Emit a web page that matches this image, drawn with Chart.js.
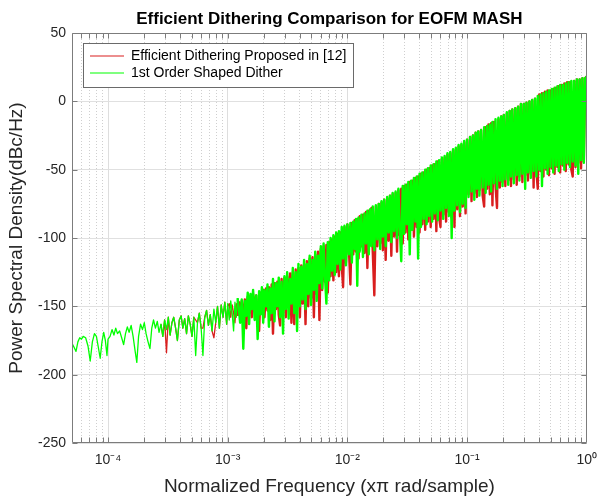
<!DOCTYPE html>
<html><head><meta charset="utf-8">
<script src="https://cdn.jsdelivr.net/npm/chart.js@4.4.1/dist/chart.umd.min.js"></script>
<style>html,body{margin:0;padding:0;background:#fff}#wrap{width:606px;height:500px;position:relative}</style>
</head><body><div id="wrap"><canvas id="c"></canvas></div>
<script>
// ---- data ----
const titleText = 'Efficient Dithering Comparison for EOFM MASH';
const seriesNames = ['Efficient Dithering Proposed in [12]', '1st Order Shaped Dither'];
const xTitle = 'Normalized Frequency (x\u03C0 rad/sample)';
const yTitle = 'Power Spectral Density(dBc/Hz)';
const xTickDecades = [1e-4, 1e-3, 1e-2, 1e-1, 1];
const xTickLabels = ['10\u207B\u2074', '10\u207B\u00B3', '10\u207B\u00B2', '10\u207B\u00B9', '10\u2070'];

const freqs = [
5.0e-5,5.2e-5,5.4e-5,5.6e-5,5.8e-5,6.0e-5,6.2e-5,6.5e-5,6.8e-5,7.1e-5,7.4e-5,7.7e-5,8.0e-5,8.3e-5,8.6e-5,8.9e-5,9.2e-5,9.5e-5,9.8e-5,
1.00e-4,1.04e-4,1.08e-4,1.12e-4,1.16e-4,1.20e-4,1.25e-4,1.30e-4,1.35e-4,1.40e-4,1.45e-4,1.50e-4,1.56e-4,1.62e-4,1.68e-4,1.74e-4,1.80e-4,1.87e-4,1.94e-4,2.01e-4,
2.08e-4,2.16e-4,2.24e-4,2.32e-4,2.40e-4,2.49e-4,2.58e-4,2.67e-4,2.77e-4,2.87e-4,2.97e-4,3.08e-4,3.19e-4,3.30e-4,3.42e-4,3.54e-4,3.67e-4,3.80e-4,3.94e-4,4.08e-4,
4.22e-4,4.37e-4,4.53e-4,4.69e-4,4.86e-4,5.03e-4,5.21e-4,5.40e-4,5.59e-4,5.79e-4,6.00e-4,6.21e-4,6.43e-4,6.66e-4,6.90e-4,7.15e-4,7.40e-4,7.67e-4,7.94e-4,8.22e-4,
8.52e-4,8.82e-4,9.14e-4,9.46e-4,9.80e-4,
1.00e-3,1.03e-3,1.06e-3,1.09e-3,1.12e-3,1.15e-3,1.18e-3,1.21e-3,1.24e-3,1.27e-3,1.31e-3,1.35e-3,1.39e-3,1.43e-3,1.47e-3,1.51e-3,1.55e-3,1.59e-3,1.63e-3,1.68e-3,
1.73e-3,1.78e-3,1.83e-3,1.88e-3,1.93e-3,1.98e-3,2.03e-3,2.09e-3,2.15e-3,2.21e-3,2.27e-3,2.33e-3,2.39e-3,2.46e-3,2.53e-3,2.60e-3,2.67e-3,2.74e-3,2.82e-3,2.90e-3,
2.98e-3,3.06e-3,3.14e-3,3.23e-3,3.32e-3,3.41e-3,3.50e-3,3.60e-3,3.70e-3,3.80e-3,3.90e-3,4.01e-3,4.12e-3,4.23e-3,4.35e-3,4.47e-3,4.59e-3,4.71e-3,4.84e-3,4.97e-3,
5.11e-3,5.25e-3,5.39e-3,5.54e-3,5.69e-3,5.84e-3,6.00e-3,6.16e-3,6.33e-3,6.50e-3,6.68e-3,6.86e-3,7.05e-3,7.24e-3,7.44e-3,7.64e-3,7.85e-3,8.06e-3,8.28e-3,8.50e-3,
8.73e-3,8.97e-3,9.21e-3,9.46e-3,9.72e-3,
1.00e-2,1.03e-2,1.06e-2,1.09e-2,1.12e-2,1.15e-2,1.18e-2,1.21e-2,1.24e-2,1.27e-2,1.31e-2,1.35e-2,1.39e-2,1.43e-2,1.47e-2,1.51e-2,1.55e-2,1.59e-2,1.63e-2,1.68e-2,
1.73e-2,1.78e-2,1.83e-2,1.88e-2,1.93e-2,1.98e-2,2.03e-2,2.09e-2,2.15e-2,2.21e-2,2.27e-2,2.33e-2,2.39e-2,2.46e-2,2.53e-2,2.60e-2,2.67e-2,2.74e-2,2.82e-2,2.90e-2,
2.98e-2,3.06e-2,3.14e-2,3.23e-2,3.32e-2,3.41e-2,3.50e-2,3.60e-2,3.70e-2,3.80e-2,3.90e-2,4.01e-2,4.12e-2,4.23e-2,4.35e-2,4.47e-2,4.59e-2,4.71e-2,4.84e-2,4.97e-2,
5.11e-2,5.25e-2,5.39e-2,5.54e-2,5.69e-2,5.84e-2,6.00e-2,6.16e-2,6.33e-2,6.50e-2,6.68e-2,6.86e-2,7.05e-2,7.24e-2,7.44e-2,7.64e-2,7.85e-2,8.06e-2,8.28e-2,8.50e-2,
8.73e-2,8.97e-2,9.21e-2,9.46e-2,9.72e-2,
1.00e-1,1.03e-1,1.06e-1,1.09e-1,1.12e-1,1.15e-1,1.18e-1,1.21e-1,1.24e-1,1.27e-1,1.31e-1,1.35e-1,1.39e-1,1.43e-1,1.47e-1,1.51e-1,1.55e-1,1.59e-1,1.63e-1,1.68e-1,
1.73e-1,1.78e-1,1.83e-1,1.88e-1,1.93e-1,1.98e-1,2.03e-1,2.09e-1,2.15e-1,2.21e-1,2.27e-1,2.33e-1,2.39e-1,2.46e-1,2.53e-1,2.60e-1,2.67e-1,2.74e-1,2.82e-1,2.90e-1,
2.98e-1,3.06e-1,3.14e-1,3.23e-1,3.32e-1,3.41e-1,3.50e-1,3.60e-1,3.70e-1,3.80e-1,3.90e-1,4.01e-1,4.12e-1,4.23e-1,4.35e-1,4.47e-1,4.59e-1,4.71e-1,4.84e-1,4.97e-1,
5.11e-1,5.25e-1,5.39e-1,5.54e-1,5.69e-1,5.84e-1,6.00e-1,6.16e-1,6.33e-1,6.50e-1,6.68e-1,6.86e-1,7.05e-1,7.24e-1,7.44e-1,7.64e-1,7.85e-1,8.06e-1,8.28e-1,8.50e-1,
8.73e-1,8.97e-1,9.21e-1,9.46e-1,9.72e-1,
1.0
];

// red series: Efficient Dithering Proposed in [12]
const psdProposed = [
null,null,null,null,null,null,null,null,null,null,null,null,null,null,null,null,null,null,null,
null,null,null,null,null,null,null,null,null,null,null,null,null,null,null,null,null,null,null,null,
null,null,null,null,null,null,null,null,-163,-172,-160,-184,-158,-171,-162,-158,-166,-175,-160,-157,
-166,-159,-170,-157,-163,-172,-158,-160,-162,-155,-166,-166,-158,-153,-164,-156,-168,-173,-162,-150,
-166,-149,-158,-147,-163,
-150,-148,-158,-149,-155,-162,-148,-157,-147,-153,
-146,-160,-145,-166,-143,-155,-142,-158,-141,-152,
-142,-160,-168,-140,-152,-138,-158,-137,-153,-136,
-160,-134,-170,-133,-152,-132,-156,-164,-130,-150,
-129,-158,-128,-150,-126,-162,-125,-163,-123,-148,
-122,-158,-120,-148,-119,-163,-117,-150,-115,-144,
-114,-158,-112,-141,-110,-160,-108,-138,-106,-132,
-105,-140,-103,-128,-101,-131,-99,-125,-97,-128,
-96,-120,-136,-92,-118,
-90,-108,-134,-89,-112,-87,-110,-86,-115,-84,
-106,-83,-111,-81,-122,-80,-105,-78,-110,-142,
-77,-106,-75,-104,-74,-109,-72,-116,-71,-102,
-69,-113,-68,-99,-67,-110,-65,-98,-64,-104,
-62,-96,-61,-101,-59,-94,-58,-99,-56,-92,
-55,-96,-53,-90,-52,-94,-50,-88,-49,-92,
-47,-86,-46,-95,-44,-85,-92,-42,-83,-41,
-88,-39,-81,-38,-85,-36,-92,-35,-79,-33,
-84,-32,-77,-30,-82,
-28,-68,-26,-73,-25,-67,-23,-70,-22,-65,
-21,-69,-77,-19,-64,-17,-68,-16,-76,-15,
-62,-78,-13,-63,-11,-59,-10,-62,-9,-58,
-7,-62,-6,-57,-5,-61,-4,-55,-2,-59,
-2,-54,-1,-58,0,-53,1,-63,2,-52,
-64,5,-51,6,-55,7,-50,8,-54,8,
-49,9,-53,10,-48,11,-52,12,-47,13,
-51,14,-46,14,-50,-55,15,-48,16,-45,
16,-49,17,-44,17,
18
];

// green series: 1st Order Shaped Dither
const psdShaped = [
-177,-180,-183,-176,-173,-174,-172,-173,-179,-190,-176,-170,-172,-180,-188,-176,-169,-175,-186,
-174,-172,-167,-171,-166,-170,-168,-173,-178,-170,-165,-169,-164,-172,-182,-191,-172,-163,-167,-162,
-170,-176,-181,-166,-160,-166,-161,-169,-163,-172,-160,-167,-158,-171,-162,-158,-166,-175,-160,-157,
-166,-159,-170,-157,-163,-172,-158,-186,-162,-155,-166,-186,-158,-153,-164,-156,-168,-152,-162,-150,
-166,-149,-158,-147,-163,
-148,-160,-146,-155,-168,-147,-158,-144,-152,-162,
-145,-181,-146,-157,-140,-163,-141,-152,-138,-160,
-142,-174,-139,-156,-136,-162,-138,-150,-134,-165,
-137,-155,-130,-161,-133,-150,-129,-158,-132,-170,
-128,-152,-125,-159,-130,-148,-122,-155,-125,-168,
-119,-150,-121,-145,-116,-152,-119,-141,-113,-149,
-116,-138,-110,-146,-113,-133,-106,-137,-104,-128,
-148,-103,-131,-100,-124,-98,-127,-96,-119,-95,
-123,-92,-115,-91,-120,
-90,-112,-89,-118,-88,-108,-86,-135,-85,-110,
-83,-114,-82,-104,-80,-112,-79,-106,-77,-109,
-76,-101,-75,-108,-73,-99,-72,-106,-70,-96,
-69,-103,-67,-95,-66,-100,-64,-92,-117,-62,
-97,-61,-90,-59,-112,-58,-94,-56,-88,-55,
-115,-53,-92,-52,-86,-50,-90,-49,-84,-47,
-88,-46,-82,-44,-87,-43,-80,-41,-86,-40,
-78,-38,-84,-37,-100,-35,-80,-34,-76,-32,
-81,-31,-75,-29,-78,
-28,-70,-26,-66,-25,-72,-23,-64,-22,-69,
-21,-63,-19,-67,-18,-61,-17,-66,-15,-60,
-13,-64,-12,-58,-11,-62,-10,-57,-8,-61,
-7,-55,-6,-60,-5,-54,-4,-58,-2,-53,
-2,-64,-1,-52,0,-56,1,-51,2,-55,
4,-50,5,-62,6,-49,7,-53,8,-48,
9,-52,10,-47,11,-51,12,-46,12,-50,
13,-45,14,-48,15,-44,15,-47,16,-53,
16,-43,17,-45,17,
18
];

// ---- chart ----
Chart.defaults.font.family = "'Liberation Sans', Arial, Helvetica, sans-serif";
const isDecade = v => Math.abs(Math.log10(v) - Math.round(Math.log10(v))) < 1e-6;
const segWidth = (c) => (c.p0.parsed.x >= 1.2e-3 ? 2.4 : 1.3);

const frame = {
  id: 'matlabFrame',
  afterLayout(chart) {
    const lg = chart.legend, a = chart.chartArea;
    lg.left = a.left + 15;
    lg.top = a.top + 13;
  },
  afterDatasetsDraw(chart) {
    const {ctx, chartArea: a, scales: {x, y}} = chart;
    ctx.save();
    ctx.strokeStyle = '#7c7c7c';
    ctx.lineWidth = 1;
    const L = Math.round(a.left) + 0.5, R = Math.round(a.right) - 0.5;
    const T = Math.round(a.top) + 0.5, B = Math.round(a.bottom) - 0.5;
    ctx.beginPath();
    ctx.rect(L, T, R - L, B - T);
    x.ticks.forEach(t => {
      const px = Math.round(x.getPixelForValue(t.value)) + 0.5;
      if (px <= L + 1 || px >= R - 1) return;
      ctx.moveTo(px, B); ctx.lineTo(px, B - 5);
      ctx.moveTo(px, T); ctx.lineTo(px, T + 5);
    });
    y.ticks.forEach(t => {
      const py = Math.round(y.getPixelForValue(t.value)) + 0.5;
      ctx.moveTo(L, py); ctx.lineTo(L + 5, py);
      ctx.moveTo(R, py); ctx.lineTo(R - 5, py);
    });
    ctx.stroke();
    const lg = chart.legend, hb = lg.legendHitBoxes;
    if (hb && hb.length) {
      const l = Math.round(lg.left - 4), t = Math.round(lg.top - 3);
      const r = Math.round(Math.max(...hb.map(h => h.left + h.width)) + 7);
      const b = Math.round(Math.max(...hb.map(h => h.top + h.height)) + 7);
      ctx.fillStyle = '#fff';
      ctx.fillRect(l, t, r - l, b - t);
      ctx.strokeStyle = '#6a6a6a';
      ctx.strokeRect(l + 0.5, t + 0.5, r - l, b - t);
      ctx.restore();
      lg.draw();
      return;
    }
    ctx.restore();
  }
};

new Chart(document.getElementById('c'), {
  type: 'line',
  data: {
    datasets: [
      { label: seriesNames[0], data: freqs.map((f, i) => ({x: f, y: psdProposed[i]})),
        borderColor: '#d91e1e', backgroundColor: '#d91e1e', borderWidth: 1.2, borderJoinStyle: 'round',
        segment: { borderWidth: segWidth },
        pointRadius: 0, fill: false, tension: 0, order: 1, spanGaps: false },
      { label: seriesNames[1], data: freqs.map((f, i) => ({x: f, y: psdShaped[i]})),
        borderColor: '#00ff00', backgroundColor: '#00ff00', borderWidth: 1.2, borderJoinStyle: 'round',
        segment: { borderWidth: segWidth },
        pointRadius: 0, fill: false, tension: 0, order: 0 }
    ]
  },
  options: {
    responsive: true, maintainAspectRatio: false, animation: false, events: [],
    devicePixelRatio: 1,
    layout: { padding: { left: 0, right: 12, top: 0, bottom: 0 } },
    plugins: {
      title: { display: true, text: titleText, color: '#000', fullSize: false,
               font: { size: 17, weight: 'bold' }, padding: { top: 9, bottom: 3.6 } },
      legend: { position: 'chartArea', align: 'start',
        labels: { usePointStyle: true, pointStyle: 'line', pointStyleWidth: 34, padding: 3,
                  color: '#000', font: { size: 14 },
                  sort: (a, b) => a.datasetIndex - b.datasetIndex } },
      tooltip: { enabled: false }
    },
    scales: {
      x: {
        type: 'logarithmic', min: 5e-5, max: 1,
        afterBuildTicks: (axis) => {
          const t = [];
          for (let e = -5; e <= 0; e++) {
            for (let m = 1; m <= 9; m++) {
              const v = Number((m * Math.pow(10, e)).toPrecision(3));
              if (v >= 5e-5 * 0.999 && v <= 1.0001) t.push({value: v});
            }
          }
          axis.ticks = t;
        },
        afterFit: (s) => { s.height = 57; },
        ticks: {
          autoSkip: false, maxRotation: 0, minRotation: 0, padding: 9,
          color: '#262626', font: { size: 14 },
          callback: (v) => {
            const k = xTickDecades.findIndex(d => Math.abs(d - v) / d < 1e-6);
            return k >= 0 ? xTickLabels[k] : '';
          }
        },
        grid: { drawTicks: false, lineWidth: 1,
                color: (c) => (c.tick && isDecade(c.tick.value)) ? '#dedede' : '#cfcfcf' },
        border: { display: false, dash: (c) => (c.tick && !isDecade(c.tick.value)) ? [1, 2] : [] },
        title: { display: true, text: xTitle, color: '#262626', font: { size: 19 }, padding: { top: 0, bottom: 1.6 } }
      },
      y: {
        min: -250, max: 50,
        afterFit: (s) => { s.width = 72; },
        ticks: { stepSize: 50, padding: 6, color: '#262626', font: { size: 14 } },
        grid: { drawTicks: false, color: '#e0e0e0', lineWidth: 1 },
        border: { display: false },
        title: { display: true, text: yTitle, color: '#262626', font: { size: 19 }, padding: { top: 5.6, bottom: 0 } }
      }
    }
  },
  plugins: [frame]
});
</script>
</body></html>
